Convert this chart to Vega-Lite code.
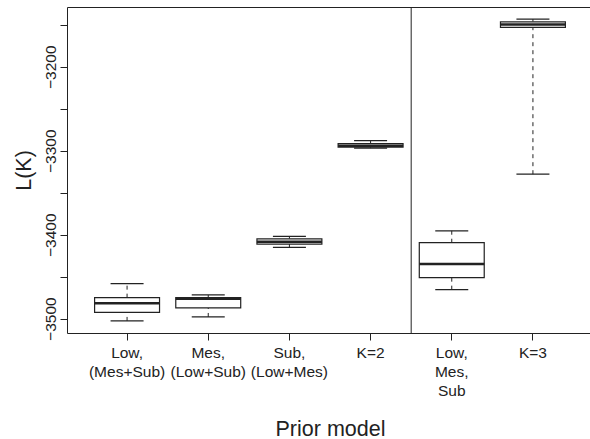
{
  "$schema": "https://vega.github.io/schema/vega-lite/v6.json",
  "width": 523,
  "height": 326,
  "autosize": "none",
  "padding": {"left": 67, "top": 7, "right": 0, "bottom": 106},
  "background": "white",
  "config": {
    "view": {"stroke": null},
    "font": "Liberation Sans",
    "axis": {
      "domainColor": "#222", "tickColor": "#222", "labelColor": "#222", "titleColor": "#222",
      "labelFont": "Liberation Sans", "titleFont": "Liberation Sans", "titleFontWeight": "normal",
      "grid": false, "domainWidth": 1, "tickWidth": 1
    }
  },
  "data": {
    "values": [
      {"model": "Low,\n(Mes+Sub)", "low": -3502.7, "q1": -3492.5, "median": -3481.8, "q3": -3475.0, "high": -3458.4},
      {"model": "Mes,\n(Low+Sub)", "low": -3498.0, "q1": -3487.3, "median": -3476.3, "q3": -3475.0, "high": -3471.8},
      {"model": "Sub,\n(Low+Mes)", "low": -3415.2, "q1": -3411.2, "median": -3408.4, "q3": -3404.9, "high": -3402.1},
      {"model": "K=2", "low": -3297.0, "q1": -3295.8, "median": -3294.0, "q3": -3291.6, "high": -3288.0},
      {"model": "Low,\nMes,\nSub", "low": -3465.5, "q1": -3451.2, "median": -3435.0, "q3": -3409.6, "high": -3395.4},
      {"model": "K=3", "low": -3328.0, "q1": -3153.2, "median": -3149.6, "q3": -3146.5, "high": -3143.3}
    ]
  },
  "resolve": {"axis": {"x": "independent"}},
  "layer": [
    {
      "mark": {"type": "rule", "color": "#222", "strokeWidth": 1},
      "encoding": {
        "x": {"field": "model", "type": "nominal", "sort": null, "bandPosition": 1,
          "scale": {"type": "band", "range": [0, 526], "paddingInner": 0, "paddingOuter": 0.24},
          "axis": {"orient": "top", "labels": false, "ticks": false, "title": null, "domain": true}},
        "opacity": {"condition": {"test": "datum.model == 'K=2'", "value": 1}, "value": 0}
      }
    },
    {
      "mark": {"type": "rule", "color": "#222", "strokeWidth": 1, "strokeDash": [4, 4]},
      "encoding": {
        "x": {"field": "model", "type": "nominal", "sort": null,
          "axis": {"orient": "bottom", "title": "Prior model", "titleFontSize": 21.5, "titleY": 102,
            "titleBaseline": "alphabetic", "labelFontSize": 15.5, "labelLineHeight": 19,
            "labelPadding": 5, "tickSize": 7, "labelAngle": 0, "labelBaseline": "top",
            "labelExpr": "split(datum.label, '\\n')", "labelOverlap": false, "labelFlush": false,
            "domain": true}},
        "y": {"field": "q3", "type": "quantitative",
          "scale": {"domain": [-3517.1, -3128.9], "nice": false, "zero": false},
          "axis": {"title": "L(K)", "values": [-3500, -3450, -3400, -3350, -3300, -3250, -3200, -3150],
            "format": "d", "labelExpr": "datum.value % 100 == 0 ? datum.label : ''",
            "labelAngle": -90, "labelAlign": "center", "labelBaseline": "alphabetic",
            "labelPadding": 5, "tickSize": 7, "labelFontSize": 15.5, "labelOverlap": false,
            "labelFlush": false, "labelBound": false,
            "titleFontSize": 21.5, "titleX": -37, "titleY": 163, "titleAngle": -90,
            "titleAlign": "center", "titleBaseline": "alphabetic"}},
        "y2": {"field": "high"}
      }
    },
    {
      "mark": {"type": "rule", "color": "#222", "strokeWidth": 1, "strokeDash": [4, 4]},
      "encoding": {
        "x": {"field": "model", "type": "nominal", "sort": null, "axis": null},
        "y": {"field": "low", "type": "quantitative"},
        "y2": {"field": "q1"}
      }
    },
    {
      "mark": {"type": "bar", "fill": "white", "stroke": "#222", "strokeWidth": 1.2, "width": {"band": 0.8}},
      "encoding": {
        "x": {"field": "model", "type": "nominal", "sort": null, "axis": null},
        "y": {"field": "q1", "type": "quantitative"},
        "y2": {"field": "q3"}
      }
    },
    {
      "mark": {"type": "tick", "color": "#222", "size": 65, "thickness": 2.5, "opacity": 1},
      "encoding": {
        "x": {"field": "model", "type": "nominal", "sort": null, "axis": null},
        "y": {"field": "median", "type": "quantitative"}
      }
    },
    {
      "mark": {"type": "tick", "color": "#222", "size": 33, "thickness": 1.2, "opacity": 1},
      "encoding": {
        "x": {"field": "model", "type": "nominal", "sort": null, "axis": null},
        "y": {"field": "high", "type": "quantitative"}
      }
    },
    {
      "mark": {"type": "tick", "color": "#222", "size": 33, "thickness": 1.2, "opacity": 1},
      "encoding": {
        "x": {"field": "model", "type": "nominal", "sort": null, "axis": null},
        "y": {"field": "low", "type": "quantitative"}
      }
    }
  ]
}
